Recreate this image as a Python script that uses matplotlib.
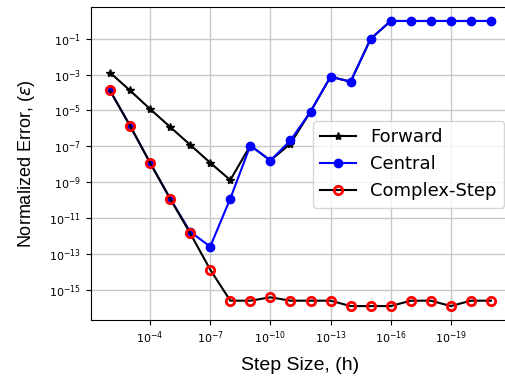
import numpy as np
import matplotlib.pyplot as plt

# step sizes, 1e-2 down to 1e-21
h = [10.0**(-k) for k in range(2, 22)]

forward = [1.3e-3, 1.3e-4, 1.2e-5, 1.2e-6, 1.2e-7, 1.2e-8, 1.3e-9,
           1.1e-7, 1.6e-8, 1.4e-7, 8.5e-6, 7.6e-4, 4e-4, 1e-1,
           0.98, 0.98, 0.98, 0.98, 0.98, 0.98]
central = [1.3e-4, 1.4e-6, 1.2e-8, 1.2e-10, 1.7e-12, 2.5e-13, 1.2e-10,
           1.1e-7, 1.6e-8, 2.1e-7, 8.5e-6, 7.6e-4, 4e-4, 1e-1,
           0.98, 0.98, 0.98, 0.98, 0.98, 0.98]
complex_step = [1.3e-4, 1.4e-6, 1.2e-8, 1.2e-10, 1.4e-12, 1.3e-14, 2.4e-16,
                2.4e-16, 3.7e-16, 2.4e-16, 2.4e-16, 2.4e-16, 1.2e-16, 1.2e-16,
                1.2e-16, 2.4e-16, 2.4e-16, 1.2e-16, 2.4e-16, 2.4e-16]

xticks = [1e-4, 1e-7, 1e-10, 1e-13, 1e-16, 1e-19]
yticks = [1e-15, 1e-13, 1e-11, 1e-9, 1e-7, 1e-5, 1e-3, 1e-1]

fig = plt.figure(figsize=(5.05, 3.81), dpi=100)
# the original picture is cut off on the right, so the axes run past the edge
ax = fig.add_axes([0.180, 0.160, 0.830, 0.822])

ax.plot(h, forward, 'k-', marker='*', markersize=6, label='Forward')
ax.plot(h, central, 'b-', marker='o', markersize=6, label='Central')
ax.plot(h, complex_step, 'k-', marker='o', markersize=6, mfc='none',
        mec='red', mew=2, label='Complex-Step')

ax.set_xscale('log')
ax.set_yscale('log')
ax.set_xlim(10**-1.05, 10**-21.95)
ax.set_ylim(10**-16.7, 10**0.78)
ax.set_xticks(xticks)
ax.set_yticks(yticks)
ax.minorticks_off()
ax.tick_params(labelsize=8)
ax.grid(True, color='#c8c8c8', linewidth=1)

ax.set_xlabel('Step Size, (h)', fontsize=14, family='Liberation Sans', labelpad=8)
ax.set_ylabel(r'Normalized Error, ($\epsilon$)', fontsize=13,
              family='Liberation Sans', labelpad=9)

ax.legend(fontsize=13, loc='center right', bbox_to_anchor=(0.986, 0.497),
          borderaxespad=0, handlelength=2)

fig.savefig('out.png')
